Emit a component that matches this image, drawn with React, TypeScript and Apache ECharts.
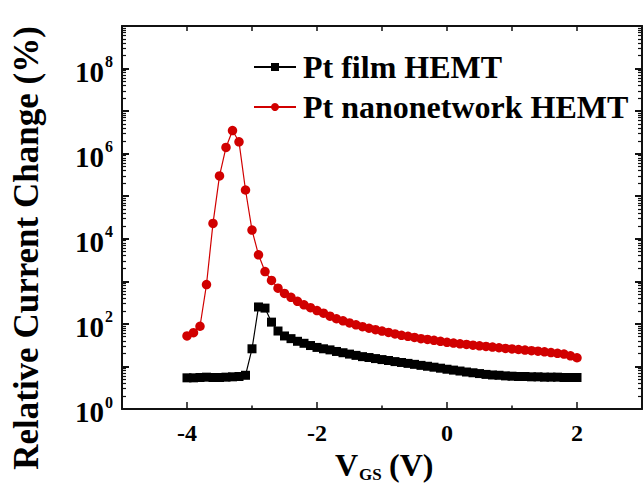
import React, { useEffect, useRef } from 'react';
import * as echarts from 'echarts';

const vgs = [
  -4.0, -3.9, -3.8, -3.7, -3.6, -3.5, -3.4, -3.3, -3.2, -3.1,
  -3.0, -2.9, -2.8, -2.7, -2.6, -2.5, -2.4, -2.3, -2.2, -2.1,
  -2.0, -1.9, -1.8, -1.7, -1.6, -1.5, -1.4, -1.3, -1.2, -1.1,
  -1.0, -0.9, -0.8, -0.7, -0.6, -0.5, -0.4, -0.3, -0.2, -0.1,
  0.0, 0.1, 0.2, 0.3, 0.4, 0.5, 0.6, 0.7, 0.8, 0.9,
  1.0, 1.1, 1.2, 1.3, 1.4, 1.5, 1.6, 1.7, 1.8, 1.9, 2.0,
];

const ptFilm = [
  5.4, 5.4, 5.5, 5.6, 5.5, 5.5, 5.6, 5.7, 5.8, 6.2,
  26, 250, 235, 110, 68, 52, 45, 39, 35, 31,
  28, 26, 24.5, 22.5, 21, 19.5, 18.2, 17, 16.2, 15.3,
  14.5, 13.8, 13, 12.4, 11.8, 11.2, 10.6, 10.1, 9.6, 9.1,
  8.6, 8.2, 7.8, 7.4, 7.1, 6.8, 6.5, 6.3, 6.2, 6.0,
  5.9, 5.8, 5.8, 5.7, 5.7, 5.6, 5.6, 5.6, 5.5, 5.5, 5.5,
];

const ptNano = [
  52, 62, 88, 840, 23000, 300000, 1400000, 3500000, 1900000, 140000,
  16000, 4200, 1700, 1050, 690, 520, 420, 340, 280, 240,
  205, 178, 152, 132, 118, 105, 95, 86, 79, 73,
  68, 63, 58, 54, 51, 48, 45, 43, 41, 39,
  37, 35.5, 34, 33, 31.5, 30.5, 29.5, 28.5, 27.5, 26.5,
  25.8, 25, 24.2, 23.5, 22.8, 22, 21.2, 20.3, 19.5, 17.8, 16,
];

const seriesNames = ['Pt film HEMT', 'Pt nanonetwork HEMT'];
const xLabelTicks = [-4, -2, 0, 2];
const xMinorTicks = [-3, -1, 1];
const xTopTicks = [-4, -3, -2, -1, 0, 1, 2];
const yLabelValues = [1, 1e2, 1e4, 1e6, 1e8];
const yDecadeTicks = [1e1, 1e2, 1e3, 1e4, 1e5, 1e6, 1e7, 1e8];

const SERIF = 'Liberation Serif';

function minorLogTicks(): number[] {
  const out: number[] = [];
  for (let e = 0; e < 9; e++) {
    for (let k = 2; k <= 9; k++) out.push(k * Math.pow(10, e));
  }
  return out;
}

export default function App() {
  const ref = useRef<HTMLDivElement>(null);

  useEffect(() => {
    if (!ref.current) return;
    const chart = echarts.init(ref.current, undefined, { renderer: 'svg' });
    const yMinor = minorLogTicks();
    const frameLine = { show: true, onZero: false, lineStyle: { color: '#111', width: 2 } };
    const noLine = { show: false, onZero: false };

    const xBase = { type: 'value', min: -5, max: 3, splitLine: { show: false } };
    const yBase = { type: 'log', logBase: 10, min: 1, max: 1e9, splitLine: { show: false } };

    chart.setOption({
      animation: false,
      backgroundColor: '#fff',
      grid: { left: 122, right: 2, top: 26, bottom: 75, containLabel: false },
      legend: {
        orient: 'vertical',
        left: 248,
        top: 46,
        itemWidth: 42,
        itemHeight: 10,
        itemGap: 8,
        data: seriesNames,
        textStyle: {
          fontFamily: SERIF,
          fontWeight: 'bold',
          fontSize: 32,
          color: '#000',
          padding: [0, 0, 0, 2],
        },
      },
      xAxis: [
        {
          ...xBase,
          position: 'bottom',
          axisLine: frameLine,
          axisTick: { show: true, inside: true, length: 7, customValues: xLabelTicks, lineStyle: { color: '#111', width: 1.5 } },
          axisLabel: {
            show: true,
            customValues: xLabelTicks,
            margin: 12,
            fontFamily: SERIF,
            fontWeight: 'bold',
            fontSize: 24,
            color: '#000',
          },
        },
        {
          ...xBase,
          position: 'bottom',
          axisLine: noLine,
          axisTick: { show: true, inside: true, length: 3.5, customValues: xMinorTicks, lineStyle: { color: '#111', width: 1.5 } },
          axisLabel: { show: false },
        },
        {
          ...xBase,
          position: 'top',
          axisLine: frameLine,
          axisTick: { show: true, inside: true, length: 5, customValues: xTopTicks, lineStyle: { color: '#111', width: 1.5 } },
          axisLabel: { show: false },
        },
      ],
      yAxis: [
        {
          ...yBase,
          position: 'left',
          axisLine: frameLine,
          axisTick: { show: true, inside: true, length: 7, customValues: yDecadeTicks, lineStyle: { color: '#111', width: 2 } },
          axisLabel: {
            show: true,
            customValues: yLabelValues,
            margin: 9,
            formatter: (v: number) => `{b|10}{s|${Math.round(Math.log10(v))}}`,
            rich: {
              b: { fontFamily: SERIF, fontWeight: 'bold', fontSize: 29, color: '#000', lineHeight: 30, padding: [6, 0, 0, 0] },
              s: { fontFamily: SERIF, fontWeight: 'bold', fontSize: 16, color: '#000', lineHeight: 8, verticalAlign: 'top', padding: [0, 0, 0, 1] },
            },
          },
        },
        {
          ...yBase,
          position: 'left',
          axisLine: noLine,
          axisTick: { show: true, inside: true, length: 4, customValues: yMinor, lineStyle: { color: '#111', width: 1.2 } },
          axisLabel: { show: false },
        },
        {
          ...yBase,
          position: 'right',
          axisLine: frameLine,
          axisTick: { show: true, inside: true, length: 7, customValues: yDecadeTicks, lineStyle: { color: '#111', width: 2 } },
          axisLabel: { show: false },
        },
        {
          ...yBase,
          position: 'right',
          axisLine: noLine,
          axisTick: { show: true, inside: true, length: 4, customValues: yMinor, lineStyle: { color: '#111', width: 1.2 } },
          axisLabel: { show: false },
        },
      ],
      series: [
        {
          name: seriesNames[0],
          type: 'line',
          xAxisIndex: 0,
          yAxisIndex: 0,
          data: vgs.map((x, i) => [x, ptFilm[i]]),
          symbol: 'rect',
          symbolSize: 9,
          itemStyle: { color: '#000' },
          lineStyle: { color: '#000', width: 1.2 },
          z: 3,
        },
        {
          name: seriesNames[1],
          type: 'line',
          xAxisIndex: 0,
          yAxisIndex: 0,
          data: vgs.map((x, i) => [x, ptNano[i]]),
          symbol: 'circle',
          symbolSize: 9.5,
          itemStyle: { color: '#d10000' },
          lineStyle: { color: '#d10000', width: 1.2 },
          z: 4,
        },
      ],
      graphic: [
        {
          type: 'text',
          x: 26,
          y: 248,
          rotation: Math.PI / 2,
          style: {
            text: 'Relative Current Change (%)',
            fontFamily: SERIF,
            fontWeight: 'bold',
            fontSize: 35,
            fill: '#000',
            align: 'center',
            verticalAlign: 'middle',
          },
        },
        {
          type: 'text',
          x: 335,
          y: 465,
          style: { text: 'V', fontFamily: SERIF, fontWeight: 'bold', fontSize: 32, fill: '#000', align: 'left', verticalAlign: 'middle' },
        },
        {
          type: 'text',
          x: 359,
          y: 474,
          style: { text: 'GS', fontFamily: SERIF, fontWeight: 'bold', fontSize: 17, fill: '#000', align: 'left', verticalAlign: 'middle' },
        },
        {
          type: 'text',
          x: 389,
          y: 465,
          style: { text: '(V)', fontFamily: SERIF, fontWeight: 'bold', fontSize: 32, fill: '#000', align: 'left', verticalAlign: 'middle' },
        },
      ],
    });

    return () => chart.dispose();
  }, []);

  return (
    <div
      ref={ref}
      style={{ position: 'fixed', left: 0, top: 0, width: 644, height: 484, background: '#fff' }}
    />
  );
}
